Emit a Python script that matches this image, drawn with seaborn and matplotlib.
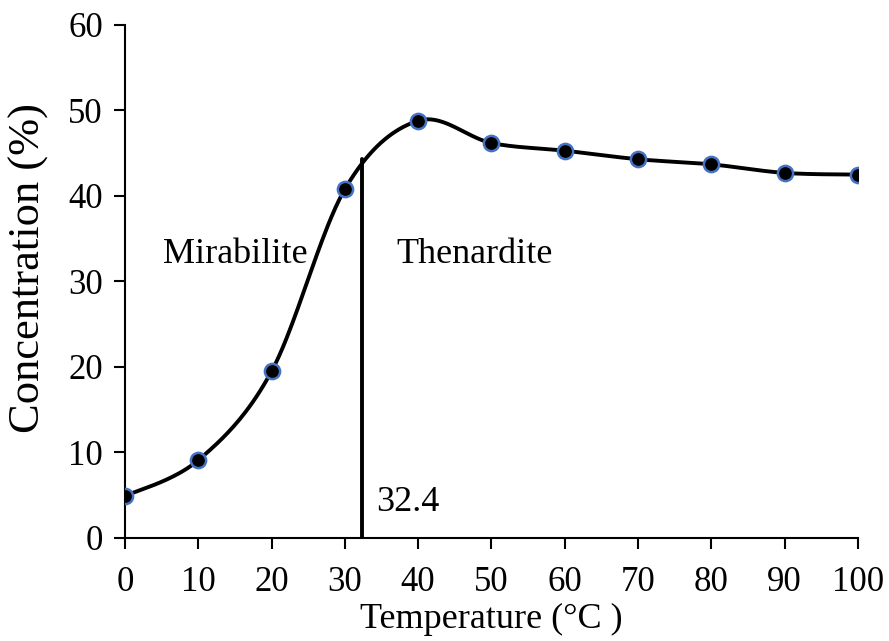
import matplotlib
matplotlib.use("Agg")
import matplotlib.pyplot as plt
import numpy as np
import seaborn as sns

# data
temperature = [0, 10, 20, 30, 40, 50, 60, 70, 80, 90, 100]
concentration = [4.9, 9.1, 19.5, 40.8, 48.8, 46.2, 45.3, 44.3, 43.7, 42.7, 42.5]
transition_temp = 32.4
transition_top = 44.3


def smooth_curve(x, y, n=40):
    # excel-like smoothed line (bezier with catmull-rom control points)
    x = np.asarray(x, float)
    y = np.asarray(y, float)
    pts = np.column_stack([x, y])
    out = []
    for i in range(len(pts) - 1):
        p0 = pts[i - 1] if i > 0 else pts[i]
        p1 = pts[i]
        p2 = pts[i + 1]
        p3 = pts[i + 2] if i + 2 < len(pts) else pts[i + 1]
        c1 = p1 + (p2 - p0) / 6
        c2 = p2 - (p3 - p1) / 6
        t = np.linspace(0, 1, n)[:, None]
        seg = ((1 - t) ** 3) * p1 + 3 * ((1 - t) ** 2) * t * c1 + 3 * (1 - t) * t ** 2 * c2 + t ** 3 * p2
        out.append(seg if i == 0 else seg[1:])
    seg = np.vstack(out)
    return seg[:, 0], seg[:, 1]


sns.set_style("ticks")
plt.rcParams['font.family'] = ['Liberation Serif', 'DejaVu Serif']
plt.rcParams['text.color'] = 'black'
plt.rcParams['axes.labelcolor'] = 'black'

fig = plt.figure(figsize=(8.89, 6.41), dpi=100)
ax = fig.add_axes([0.1406, 0.1607, 0.8245, 0.8003])

sx, sy = smooth_curve(temperature, concentration)
ax.plot(sx, sy, color='black', lw=2.8, zorder=2)
sns.scatterplot(x=temperature, y=concentration, ax=ax, s=120, color='black',
                edgecolor='#4472C4', linewidth=1.8, zorder=3)
ax.plot([transition_temp, transition_temp], [0, transition_top], color='black', lw=2.8, zorder=2)

ax.text(5.2, 33.1, 'Mirabilite', fontsize=26, va='center', ha='left')
ax.text(37.0, 33.1, 'Thenardite', fontsize=26, va='center', ha='left')
ax.text(34.3, 4.2, '32.4', fontsize=26, va='center', ha='left')

ax.set_xlim(0, 100)
ax.set_ylim(0, 60)
ax.set_xticks(range(0, 101, 10))
ax.set_yticks(range(0, 61, 10))
ax.tick_params(labelsize=25, length=8, width=1.5, direction='out', colors='black')
ax.tick_params(axis='x', pad=12)
ax.tick_params(axis='y', pad=8)
for s in ['left', 'bottom']:
    ax.spines[s].set_linewidth(1.5)
    ax.spines[s].set_color('black')
sns.despine(ax=ax)
for s in ['left', 'bottom']:
    ax.spines[s].set_clip_on(False)

ax.set_xlabel('Temperature (°C )', fontsize=26, labelpad=3)
ax.set_ylabel('Concentration (%)', fontsize=32)
ax.yaxis.set_label_coords(-0.104, 0.526)

fig.savefig('out.png', dpi=100)
